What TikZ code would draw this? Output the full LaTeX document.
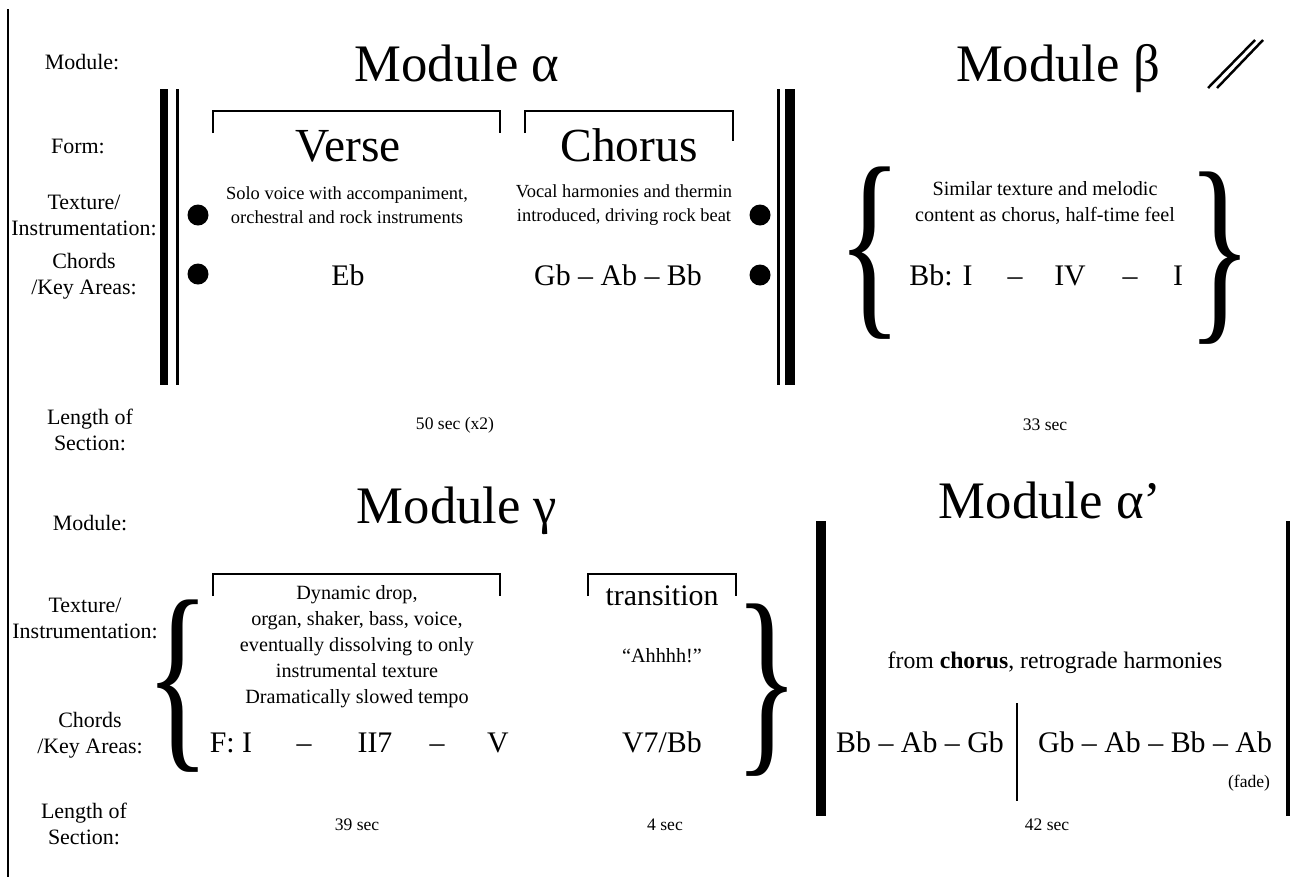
\documentclass[tikz,border=0pt]{standalone}
\usepackage{fontspec}
\setmainfont{Liberation Serif}
\usepackage{graphicx}
\definecolor{ink}{HTML}{000000}

\newcommand{\tallbrace}[1]{\makebox[0.74cm]{\resizebox*{1.3cm}{3.45cm}{#1}}}

\begin{document}
\begin{tikzpicture}[x=0.02cm,y=-0.02cm,
    lbl/.style={align=center,font=\fontsize{12.5}{14.8}\selectfont},
    modtitle/.style={anchor=base,font=\fontsize{30}{36}\selectfont},
    formtxt/.style={anchor=base,font=\fontsize{27}{32}\selectfont},
    desc/.style={align=center,font=\fontsize{10.5}{14}\selectfont},
    gdesc/.style={align=center,font=\fontsize{11.5}{14.8}\selectfont},
    chord/.style={anchor=base,font=\fontsize{17}{20}\selectfont},
    seclen/.style={font=\fontsize{10}{12}\selectfont},
    bracketline/.style={line width=1.6pt,draw=ink},
    barfill/.style={fill=ink},
    beat/.style={circle,fill=ink,minimum size=0.42cm,inner sep=0pt},
    bigbr/.style={inner sep=0pt,text=ink}
  ]
  \useasboundingbox (0,0) rectangle (1290,877);
  \draw[line width=0.6pt] (8,9) -- (8,877);

  % row labels, top
  \node[lbl] (tmod) at (82,62) {Module:};
  \node[lbl] (tform) at (78,146) {Form:};
  \node[lbl] (ttex) at (84,215) {Texture/\\Instrumentation:};
  \node[lbl] (tchd) at (84,276) {Chords\\/Key Areas:};
  \node[lbl] (tlen) at (90,430) {Length of\\Section:};

  % module alpha
  \node[modtitle] (alpha) at (457,81) {Module α};
  \fill[barfill] (160,89) rectangle (168,385);
  \fill[barfill] (176,89) rectangle (179,385);
  \node[beat] (d1) at (198,215) {};
  \node[beat] (d2) at (198,274) {};
  \draw[bracketline] (213,133) |- (500,111) -- (500,133);
  \draw[bracketline] (525,133) |- (733,111) -- (733,141);
  \node[formtxt] (verse) at (348,161) {Verse};
  \node[formtxt] (chorus) at (629,161) {Chorus};
  \node[desc] (vtex) at (347,205) {Solo voice with accompaniment,\\orchestral and rock instruments};
  \node[desc] (ctex) at (624,205) {Vocal harmonies and thermin\\introduced, driving rock beat};
  \node[chord] (vchd) at (348,285) {Eb};
  \node[chord] (cchd) at (618,285) {Gb – Ab – Bb};
  \node[beat] (d3) at (760,215) {};
  \node[beat] (d4) at (760,275) {};
  \fill[barfill] (777,89) rectangle (780,385);
  \fill[barfill] (785,89) rectangle (795,385);
  \node[seclen] (alen) at (455,425) {50 sec (x2)};

  % module beta
  \node[modtitle] (beta) at (1058,81) {Module β};
  \draw[line width=1.4pt] (1208,88) -- (1255,40);
  \draw[line width=1.4pt] (1217,88) -- (1263,40);
  \node[bigbr] (bl) at (870,253) {\tallbrace{\{}};
  \node[bigbr] (br) at (1220,258) {\tallbrace{\}}};
  \node[gdesc] (btex) at (1045,203) {Similar texture and melodic\\content as chorus, half-time feel};
  \node[chord] (b1) at (941,285) {Bb: I};
  \node[chord] (b2) at (1015,285) {–};
  \node[chord] (b3) at (1070,285) {IV};
  \node[chord] (b4) at (1130,285) {–};
  \node[chord] (b5) at (1178,285) {I};
  \node[seclen] (blen) at (1045,425) {33 sec};

  % row labels, bottom
  \node[lbl] (gmod) at (90,523) {Module:};
  \node[lbl] (gtex) at (85,618) {Texture/\\Instrumentation:};
  \node[lbl] (gchd) at (90,735) {Chords\\/Key Areas:};
  \node[lbl] (glen) at (84,824) {Length of\\Section:};

  % module gamma
  \node[modtitle] (gamma) at (457,523) {Module γ};
  \node[bigbr] (gl) at (178,686) {\tallbrace{\{}};
  \node[bigbr] (gr) at (767,690) {\tallbrace{\}}};
  \draw[bracketline] (213,596) |- (500,574) -- (500,596);
  \draw[bracketline] (588,596) |- (736,574) -- (736,596);
  \node[gdesc] (gtxt) at (357,647) {Dynamic drop,\\organ, shaker, bass, voice,\\eventually dissolving to only\\instrumental texture\\Dramatically slowed tempo};
  \node[chord] (trans) at (662,605) {transition};
  \node[gdesc] (ahh) at (662,656) {“Ahhhh!”};
  \node[chord] (g1) at (231,752) {F: I};
  \node[chord] (g2) at (304,752) {–};
  \node[chord] (g3) at (375,752) {II7};
  \node[chord] (g4) at (437,752) {–};
  \node[chord] (g5) at (498,752) {V};
  \node[chord] (g6) at (662,752) {V7/Bb};
  \node[seclen] (glen1) at (357,825) {39 sec};
  \node[seclen] (glen2) at (665,825) {4 sec};

  % module alpha prime
  \node[modtitle] (alphap) at (1050,518) {Module α’};
  \fill[barfill] (816,521) rectangle (826,816);
  \fill[barfill] (1286,521) rectangle (1290,816);
  \node[font=\fontsize{13.5}{16}\selectfont] (aptex) at (1055,663) {from \textbf{chorus}, retrograde harmonies};
  \node[chord] (apl) at (920,752) {Bb – Ab – Gb};
  \node[chord] (apr) at (1155,752) {Gb – Ab – Bb – Ab};
  \draw[line width=1.4pt] (1017,703) -- (1017,801);
  \node[seclen] (fade) at (1249,783) {(fade)};
  \node[seclen] (aplen) at (1047,825) {42 sec};
\end{tikzpicture}
\end{document}
